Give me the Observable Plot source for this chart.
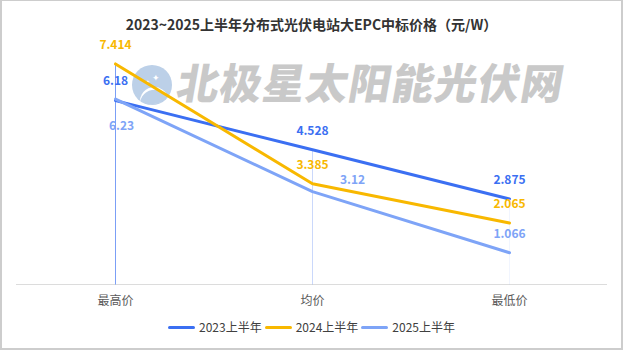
<!DOCTYPE html>
<html>
<head>
<meta charset="utf-8">
<script src="https://cdn.jsdelivr.net/npm/d3@7"></script>
<script src="https://cdn.jsdelivr.net/npm/@observablehq/plot@0.6"></script>
<style>
  body { margin: 0; background: #fff; font-family: "Noto Sans CJK SC", "Noto Sans", sans-serif; }
  #wrap { position: relative; width: 623px; height: 358px; overflow: hidden; }
  #frame { position: absolute; left: 0; top: 0; width: 623px; height: 350px; box-sizing: border-box;
           border: 2px solid #cdcdcd; border-top-width: 1px; }
  #logo { position: absolute; left: 132px; top: 65px; width: 40px; height: 40px; border-radius: 50%; background: #bcd0e8; }
  #logo .arc { position: absolute; left: 6px; top: 22px; width: 30px; height: 14px; border-top: 3px solid #fff; border-radius: 50%/100% 100% 0 0; transform: rotate(-12deg); }
  #logo .s1, #logo .s2 { position: absolute; color: #fff; font-size: 9px; line-height: 1; }
  #watermark { position: absolute; left: 178px; top: 60px; font-size: 42px; line-height: 42px; font-weight: 900;
               color: #c9c9c9; letter-spacing: 1px; transform: skewX(-10deg); white-space: nowrap; }
  #title { position: absolute; left: 0; top: 14px; width: 623px; text-align: center; font-size: 14px; line-height: 20px;
           font-weight: bold; color: #333; }
  #chart { position: absolute; left: 0; top: 0; }
  #legend { position: absolute; left: 0; top: 318px; width: 623px; display: flex; justify-content: center; align-items: center;
            font-size: 12px; line-height: 18px; color: #404040; }
  .item { display: flex; align-items: center; margin: 0 1.5px; }
  .sw { width: 27px; height: 3px; border-radius: 2px; margin-right: 4px; }
</style>
</head>
<body>
<div id="wrap">
  <div id="frame"></div>
  <div id="logo"><div class="arc"></div><span class="s1" style="left:20px;top:8px">✦</span><span class="s2" style="left:13px;top:14px;font-size:6px">✦</span></div>
  <div id="watermark">北极星太阳能光伏网</div>
  <div id="chart"></div>
  <div id="title">2023~2025上半年分布式光伏电站大EPC中标价格（元/W）</div>
  <div id="legend"></div>
</div>
<script>
// ---- data ----
const categories = ["最高价", "均价", "最低价"];
const series = ["2023上半年", "2024上半年", "2025上半年"];
const values2023 = [6.18, 4.528, 2.875];
const values2024 = [7.414, 3.385, 2.065];
const values2025 = [6.23, 3.12, 1.066];

// ---- styling ----
const colors = ["#3b6ff2", "#f8b800", "#7ea4f7"];
const ruleOpacity = [0.75, 0.3, 0.08];
const labelOffset = { "2025上半年|最高价": [6, 27], "2025上半年|均价": [40, -12] };

const seriesValues = [values2023, values2024, values2025];
const data = series.flatMap((s, si) =>
  categories.map((c, ci) => ({ series: s, category: c, value: seriesValues[si][ci] })));
const peaks = categories.map((c, i) => ({ category: c, base: 0, value: Math.max(values2023[i], values2024[i], values2025[i]) }));

const marks = [
  Plot.ruleY([0], { stroke: "#dcdcdc", strokeWidth: 1 }),
  ...peaks.map((p, i) => Plot.link([p], { x1: "category", x2: "category", y1: "base", y2: "value",
    stroke: "#4f7ff3", strokeOpacity: ruleOpacity[i], strokeWidth: 1 })),
  Plot.lineY(data, { x: "category", y: "value", stroke: "series", z: "series", strokeWidth: 3 }),
  ...data.map(d => {
    const [dx, dy] = labelOffset[d.series + "|" + d.category] ?? [0, -19];
    return Plot.text([d], { x: "category", y: "value", text: e => String(e.value), fill: "series",
      dx, dy, fontSize: 12, fontWeight: "bold" });
  }),
  Plot.axisX({ tickSize: 0, tickPadding: 12, fontSize: 12, label: null, fill: "#595959" })
];

const chart = Plot.plot({
  width: 623, height: 310,
  marginTop: 46, marginBottom: 26, marginLeft: 16, marginRight: 16,
  x: { type: "point", domain: categories, padding: 0.5 },
  y: { domain: [0, 8], axis: null },
  color: { domain: series, range: colors },
  style: { background: "transparent", fontFamily: "'Noto Sans CJK SC', sans-serif", fontSize: "12px", overflow: "visible" },
  marks
});
document.getElementById("chart").appendChild(chart);

const legend = document.getElementById("legend");
series.forEach((s, i) => {
  const it = document.createElement("div");
  it.className = "item";
  it.innerHTML = `<span class="sw" style="background:${colors[i]}"></span><span>${s}</span>`;
  legend.appendChild(it);
});
</script>
</body>
</html>
